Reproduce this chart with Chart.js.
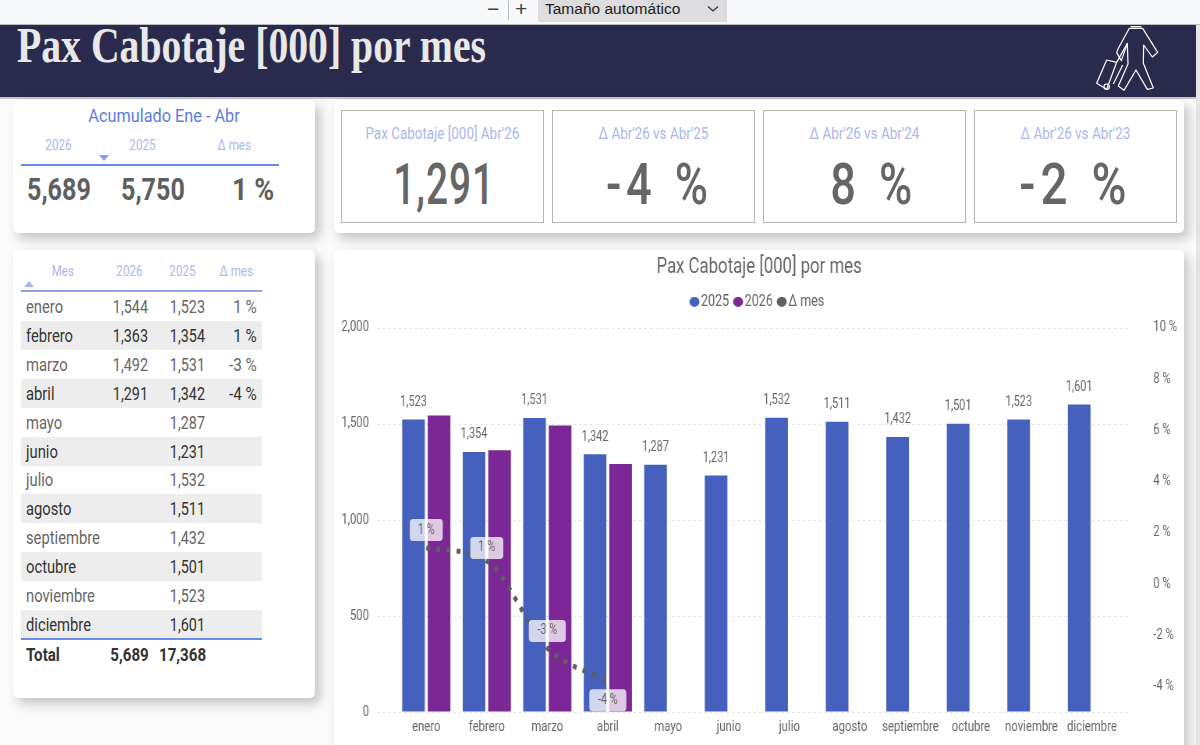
<!DOCTYPE html>
<html lang="es"><head><meta charset="utf-8">
<script src="https://cdn.jsdelivr.net/npm/chart.js@4"></script>
<style>
html,body{margin:0;padding:0;width:1200px;height:745px;overflow:hidden;background:#fbfbfb;font-family:Roboto,sans-serif;color:#666}
.a{position:absolute;white-space:nowrap}
.card{position:absolute;background:#fff;border-radius:5px;box-shadow:5px 6px 12px rgba(0,0,0,.22)}
.kpi{position:absolute;top:110px;width:200.5px;height:111px;border:1.5px solid #b4b4b4;text-align:center;background:#fff;white-space:nowrap}
.kpi .t{position:absolute;left:-50px;right:-50px;top:12px;font-size:17px;color:#aab8ec}
.kpi .t b{display:inline-block;font-weight:normal;transform:scaleX(.79)}
.kpi .v{position:absolute;left:-50px;right:-50px;top:40px;font-size:58px;line-height:66px;color:#666;letter-spacing:6px;word-spacing:3px}
.kpi .v b{display:inline-block;position:relative;font-weight:500;transform:scaleX(var(--k,.78))}
.c{display:inline-block;transform:scaleX(var(--k,.78))}
.l{transform-origin:0 50%;transform:scaleX(var(--k,.8))}
.rr{transform-origin:100% 50%;transform:scaleX(var(--k,.8))}
.r{position:absolute;left:20.5px;width:241px;height:29px}
.r span{position:absolute;top:4px;font-size:18px;line-height:22px;white-space:nowrap}
.tri{position:absolute;width:0;height:0;border-left:5px solid transparent;border-right:5px solid transparent}
</style></head><body>
<div class="a" style="left:0;top:0;width:1200px;height:25px;background:#f8f9fb;border-bottom:1px solid #bbb;box-sizing:border-box"></div>
<div class="a" style="left:487px;top:-3px;font:21px 'Liberation Sans';color:#444">−</div>
<div class="a" style="left:508px;top:1px;width:1px;height:19px;background:#bbb"></div>
<div class="a" style="left:515px;top:-3px;font:21px 'Liberation Sans';color:#444">+</div>
<div class="a" style="left:538px;top:0;width:189px;height:22px;background:#dddddf"></div>
<div class="a" style="left:545px;top:0;font:15.5px/17px 'Liberation Sans';color:#222">Tamaño automático</div>
<svg class="a" style="left:707px;top:5px" width="12" height="8"><path d="M1 1.5L6 6L11 1.5" fill="none" stroke="#333" stroke-width="1.3"/></svg>

<div class="a" style="left:0;top:25px;width:1196px;height:72px;background:#2a2a4d;overflow:hidden">
 <div class="a" id="ttl" style="left:17px;top:-13px;font:bold 50px/66px 'Liberation Serif';color:#e8e8e8;transform-origin:0 0;transform:scaleX(.794)">Pax Cabotaje [000] por mes</div>
</div>
<div class="a" style="left:0;top:97px;width:1196px;height:2px;background:#c4c4c4"></div>
<div class="a" style="left:1196px;top:25px;width:4px;height:720px;background:#e6e6e6"></div>
<svg class="a" style="left:900px;top:0" width="300" height="100" viewBox="0 0 900 300" fill="none" stroke="#fff" stroke-width="3.6" stroke-linejoin="round">
 <path d="M692 80 L724 80 M688 85 L655 145 L650 158 L664 182 L682 130 L684 192 L655 258 L672 271 L708 210 L742 268 L760 264 L730 190 L731 135 L757 171 L773 157 L728 85 Z"/>
 <path d="M620 180 L650 187 L620 268 L590 250 Z M650 187 L682 130 M668 195 L640 252"/>
 <circle cx="620" cy="260" r="8"/>
</svg>

<div class="card" style="left:12.5px;top:100px;width:302px;height:133px"></div>
<div class="a" style="left:14px;width:300px;top:106px;text-align:center;font-size:18.5px;line-height:20px;color:#5e7be0"><span class="c" style="--k:.88">Acumulado Ene - Abr</span></div>
<div class="a" style="left:28px;width:60px;top:136px;text-align:center;font-size:15.5px;color:#aab8ec"><span class="c" style="--k:.75">2026</span></div>
<div class="a" style="left:112px;width:60px;top:136px;text-align:center;font-size:15.5px;color:#aab8ec"><span class="c" style="--k:.75">2025</span></div>
<div class="a" style="left:204px;width:60px;top:136px;text-align:center;font-size:15.5px;color:#aab8ec"><span class="c" style="--k:.75">Δ mes</span></div>
<div class="tri" style="left:99px;top:155px;border-top:6px solid #8c9fe6"></div>
<div class="a" style="left:20.5px;top:163.5px;width:258px;height:2px;background:#6a8ae8"></div>
<div class="a l" style="--k:.81;left:27px;top:173px;font-weight:bold;font-size:31px;line-height:34px;color:#5f5f5f">5,689</div>
<div class="a l" style="--k:.81;left:121px;top:173px;font-weight:bold;font-size:31px;line-height:34px;color:#5f5f5f">5,750</div>
<div class="a l" style="--k:.87;left:232px;top:173px;font-weight:bold;font-size:31px;line-height:34px;color:#5f5f5f">1 %</div>

<div class="card" style="left:334px;top:100px;width:850px;height:133px"></div>
<div class="kpi" style="left:341px"><div class="t"><b>Pax Cabotaje [000] Abr'26</b></div><div class="v" style="letter-spacing:1.5px"><b style="--k:.67;left:2px">1,291</b></div></div>
<div class="kpi" style="left:552px"><div class="t"><b>Δ Abr'26 vs Abr'25</b></div><div class="v"><b style="left:6px">-4 %</b></div></div>
<div class="kpi" style="left:763px"><div class="t"><b>Δ Abr'26 vs Abr'24</b></div><div class="v"><b style="left:9px">8 %</b></div></div>
<div class="kpi" style="left:974px"><div class="t"><b>Δ Abr'26 vs Abr'23</b></div><div class="v"><b style="--k:.82">-2 %</b></div></div>

<div class="card" style="left:12.5px;top:250px;width:302px;height:448px"></div>
<div id="tbl"></div>

<div class="card" style="left:334px;top:250px;width:850px;height:520px"></div>
<div class="a" style="left:334px;top:250px;transform-origin:0 0;transform:scaleX(.78)"><canvas id="c" width="1090" height="495" style="display:block"></canvas></div>

<script>
const months = ['enero','febrero','marzo','abril','mayo','junio','julio','agosto','septiembre','octubre','noviembre','diciembre'];
const pax2025 = [1523,1354,1531,1342,1287,1231,1532,1511,1432,1501,1523,1601];
const pax2026 = [1544,1363,1492,1291,null,null,null,null,null,null,null,null];
const deltaValues = [1.4,0.9,-2.5,-3.8,null,null,null,null,null,null,null,null];
const deltaLabels = ['1 %','1 %','-3 %','-4 %','','','','','','','',''];
const leftTicks = [0,500,1000,1500,2000];
const rightTicks = [-4,-2,0,2,4,6,8,10];
const totals = ['Total','5,689','17,368'];

const fmt = n => n==null ? '' : n.toLocaleString('en-US');
const FONT = "Roboto, sans-serif";
const K = 0.78;           // horizontal squeeze of the canvas, gives the condensed lettering

// table
(function(){
  const t = document.getElementById('tbl');
  let h = '';
  [['Mes',63],['2026',129.5],['2025',182],['Δ mes',236.5]].forEach(([s,x])=>{
    h += `<div class="a" style="left:${x-40}px;width:80px;top:262px;text-align:center;font-size:15.5px;line-height:18px;color:#aab8ec"><span class="c" style="--k:.75">${s}</span></div>`;
  });
  h += '<div class="tri" style="left:24px;top:281px;border-bottom:6px solid #aab8ec"></div>';
  h += '<div class="a" style="left:20.5px;top:290px;width:241px;height:2px;background:#8ea4e6"></div>';
  months.forEach((m,i)=>{
    const c = i%2 ? '#333' : '#666';
    const bg = i%2 ? 'background:#eeeded;' : '';
    h += `<div class="r" style="top:${292+i*28.9}px;${bg}color:${c}">
      <span class="l" style="--k:.82;left:5px">${m}</span>
      <span class="rr" style="right:113px">${fmt(pax2026[i])}</span>
      <span class="rr" style="right:56px">${fmt(pax2025[i])}</span>
      <span class="rr" style="--k:.85;right:4.5px">${deltaLabels[i]}</span></div>`;
  });
  h += '<div class="a" style="left:20.5px;top:638px;width:241px;height:2px;background:#6a8ae8"></div>';
  const ts = 'top:644px;font-weight:bold;font-size:18px;line-height:22px;color:#333;--k:.84';
  h += `<div class="a l" style="left:25.5px;${ts}">${totals[0]}</div>`;
  h += `<div class="a rr" style="right:1051px;${ts}">${totals[1]}</div>`;
  h += `<div class="a rr" style="right:994px;${ts}">${totals[2]}</div>`;
  t.innerHTML = h;
})();

// round legend dot, pre-squeezed so that it stays round on the page
function dot(color){
  const d = document.createElement('canvas');
  d.width = 14; d.height = 10;
  const x = d.getContext('2d');
  x.fillStyle = color;
  x.beginPath(); x.ellipse(7,5,5/K,5,0,0,Math.PI*2); x.fill();
  return d;
}
const legendRoom = {
  id:'legendRoom',
  beforeInit(chart){
    const f = chart.legend.fit;
    chart.legend.fit = function(){ f.call(this); this.height += 8; };
  }
};
// dotted grid lines running a little past the plot area
const gridPlugin = {
  id:'wideGrid',
  beforeDatasetsDraw(chart){
    const {ctx, chartArea:a, scales:{y}} = chart;
    ctx.save();
    ctx.strokeStyle = '#e4e4e4'; ctx.lineWidth = 1; ctx.setLineDash([3,4]);
    leftTicks.forEach(v=>{
      const p = Math.round(y.getPixelForValue(v))+.5;
      ctx.beginPath(); ctx.moveTo(a.left-19/K,p); ctx.lineTo(a.right+9/K,p); ctx.stroke();
    });
    ctx.restore();
  }
};
// value labels: plain text on the 2025 bars, pills on the delta line
const labelPlugin = {
  id:'valueLabels',
  afterDatasetsDraw(chart){
    const ctx = chart.ctx;
    ctx.save();
    ctx.textAlign='center'; ctx.textBaseline='middle';
    ctx.font = `14px ${FONT}`;
    ctx.fillStyle = '#666';
    chart.getDatasetMeta(0).data.forEach((b,i)=>{
      ctx.fillText(fmt(pax2025[i]), b.x, b.y-17);
    });
    const lift = [-18,-13,-17,19];
    chart.getDatasetMeta(2).data.forEach((p,i)=>{
      if(deltaValues[i]==null) return;
      const w = (deltaLabels[i].length>3 ? 37 : 33)/K, h = 22, cy = p.y+lift[i];
      ctx.fillStyle='rgba(255,255,255,.75)';
      ctx.beginPath(); ctx.roundRect(p.x-w/2,cy-h/2,w,h,4); ctx.fill();
      ctx.fillStyle='#666';
      ctx.fillText(deltaLabels[i], p.x, cy);
    });
    ctx.restore();
  }
};
// label offsets come from invisible tick marks, so that they add no vertical margin
const hiddenGrid = len => ({display:true,drawOnChartArea:false,drawTicks:true,tickLength:len,tickColor:'transparent'});

new Chart(document.getElementById('c'),{
  type:'bar',
  data:{labels:months,datasets:[
    {label:'2025',data:pax2025,backgroundColor:'#4560bd',order:2,categoryPercentage:.845,barPercentage:.885,yAxisID:'y'},
    {label:'2026',data:pax2026,backgroundColor:'#7b2795',order:2,categoryPercentage:.845,barPercentage:.885,yAxisID:'y'},
    {type:'line',label:'Δ mes',data:deltaValues,yAxisID:'y1',order:1,borderColor:'#5f5f5f',backgroundColor:'#5f5f5f',borderWidth:5,borderDash:[5,8],cubicInterpolationMode:'monotone',pointRadius:0,pointHoverRadius:0,pointStyle:'circle',spanGaps:false}
  ]},
  plugins:[legendRoom,gridPlugin,labelPlugin],
  options:{
    responsive:false,animation:false,devicePixelRatio:1,
    layout:{padding:{top:5,left:0,right:0,bottom:0}},
    plugins:{
      tooltip:{enabled:false},
      title:{display:true,text:'Pax Cabotaje [000] por mes',color:'#666',font:{family:FONT,size:21.5,weight:'normal'},padding:{top:0,bottom:2}},
      legend:{display:true,position:'top',labels:{usePointStyle:true,pointStyleWidth:1,boxHeight:7,padding:11,color:'#666',font:{family:FONT,size:16},
        generateLabels(chart){return chart.data.datasets.map((d,i)=>({text:d.label,fillStyle:d.backgroundColor,strokeStyle:d.backgroundColor,lineWidth:0,pointStyle:dot(d.backgroundColor),datasetIndex:i,fontColor:'#666'}));}}}
    },
    scales:{
      x:{grid:{display:false,drawTicks:false},border:{display:false},ticks:{color:'#666',font:{family:FONT,size:14.5},padding:7,maxRotation:0,autoSkip:false},afterFit(s){s.height=33;}},
      y:{position:'left',min:0,max:2000,afterBuildTicks(s){s.ticks=leftTicks.map(v=>({value:v}));},
         grid:hiddenGrid(27/K),border:{display:false},
         ticks:{color:'#666',font:{family:FONT,size:14.5},padding:0,callback:v=>fmt(v)},afterFit(s){s.width=62/K;}},
      y1:{position:'right',min:-5,max:10,afterBuildTicks(s){s.ticks=rightTicks.map(v=>({value:v}));},
         grid:hiddenGrid(31/K),border:{display:false},
         ticks:{color:'#666',font:{family:FONT,size:14.5},padding:0,callback:v=>v+' %'},afterFit(s){s.width=62/K;}}
    }
  }
});
</script>
</body></html>
